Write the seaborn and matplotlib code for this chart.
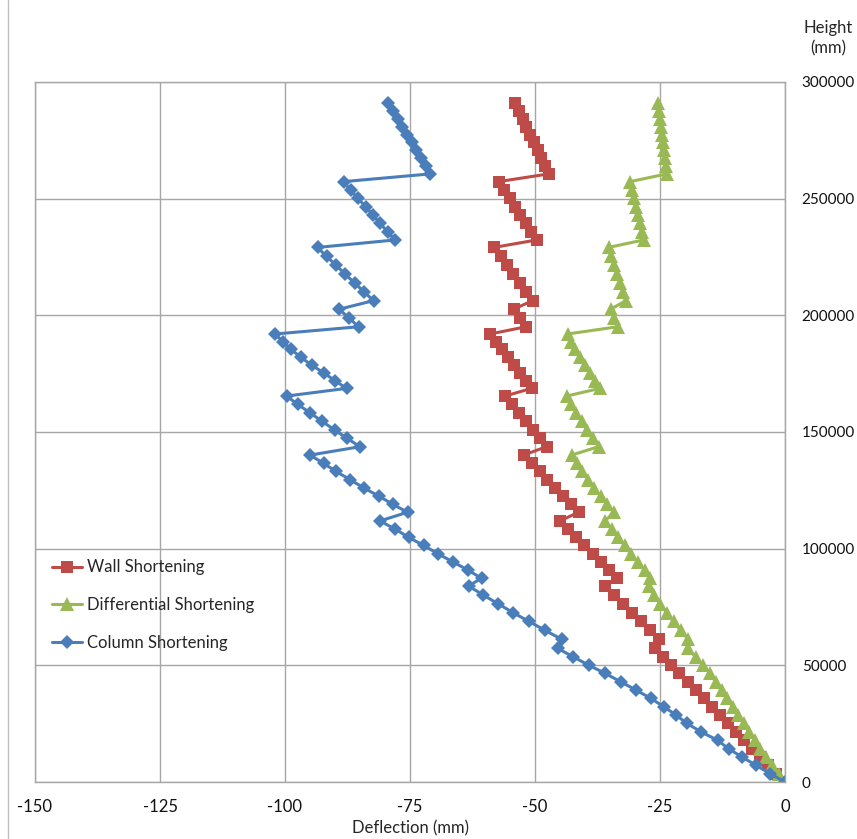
import numpy as np
import pandas as pd
import seaborn as sns
import matplotlib.pyplot as plt
from matplotlib.lines import Line2D

# floor levels (mm), shared by all three series
height = [0, 3600, 7200, 10700, 14300, 17900, 21500, 25100, 28700, 32200, 35800, 39400,
          43000, 46600, 50100, 53700, 57300,
          61200, 65000, 68800, 72600, 76400, 80200, 84000,
          87300, 90800, 94300, 97800, 101400, 104900, 108400, 111900,
          115600, 119100, 122600, 126100, 129600, 133100, 136600, 140100,
          143700, 147300, 150900, 154600, 158200, 161800, 165400,
          168700, 172000, 175400, 178700, 182000, 185400, 188700, 192000,
          195100, 198900, 202600,
          206300, 210100, 213900, 217700, 221500, 225300, 229100,
          232300, 235900, 239400, 243000, 246600, 250100, 253700, 257300,
          260600, 264000, 267400, 270800, 274200, 277500, 280900, 284300, 287700, 291100]

wall = [0, -1.8, -3.4, -5.0, -6.6, -8.2, -9.8, -11.4, -13.0, -14.6, -16.2, -17.8,
        -19.5, -21.2, -22.9, -24.5, -26.0,
        -25.3, -27.1, -28.9, -30.7, -32.4, -34.2, -36.0,
        -33.7, -35.3, -36.9, -38.5, -40.2, -41.8, -43.4, -45.0,
        -41.3, -42.9, -44.4, -46.0, -47.6, -49.1, -50.7, -52.3,
        -47.7, -49.1, -50.5, -51.9, -53.2, -54.6, -56.0,
        -50.7, -51.9, -53.1, -54.3, -55.4, -56.6, -57.8, -59.0,
        -51.8, -53.0, -54.3,
        -50.5, -51.8, -53.1, -54.4, -55.6, -56.9, -58.2,
        -49.7, -50.8, -51.9, -53.0, -54.0, -55.1, -56.2, -57.3,
        -47.3, -48.0, -48.8, -49.5, -50.3, -51.0, -51.8, -52.5, -53.3, -54.0]

differential = [0, -1.3, -2.6, -3.8, -5.0, -6.1, -7.2, -8.3, -9.4, -10.5, -11.6, -12.7,
                -13.9, -15.1, -16.4, -17.9, -19.5,
                -19.4, -20.9, -22.3, -23.7, -25.0, -26.2, -27.3,
                -27.0, -28.1, -29.5, -30.9, -32.1, -33.5, -34.6, -36.0,
                -34.2, -35.6, -36.9, -38.3, -39.4, -40.7, -41.6, -42.7,
                -37.3, -38.5, -39.6, -40.7, -41.8, -42.8, -43.7,
                -37.0, -38.0, -39.0, -40.0, -41.0, -42.0, -42.8, -43.5,
                -33.5, -34.2, -34.9,
                -31.8, -32.4, -33.0, -33.6, -34.2, -34.8, -35.3,
                -28.3, -28.7, -29.1, -29.4, -29.9, -30.3, -30.7, -31.0,
                -23.7, -23.9, -24.1, -24.3, -24.4, -24.7, -24.8, -25.0, -25.2, -25.4]

column = [0, -3.0, -5.8, -8.6, -11.3, -13.5, -16.8, -19.6, -21.8, -24.2, -26.8, -29.8,
          -32.9, -36.0, -39.3, -42.4, -45.5,
          -44.7, -48.0, -51.2, -54.4, -57.4, -60.4, -63.3,
          -60.7, -63.4, -66.4, -69.4, -72.3, -75.3, -78.0, -81.0,
          -75.5, -78.5, -81.3, -84.3, -87.0, -89.8, -92.3, -95.0,
          -85.0, -87.6, -90.1, -92.6, -95.0, -97.4, -99.7,
          -87.7, -90.0, -92.3, -94.7, -96.8, -98.8, -100.4, -102.0,
          -85.3, -87.2, -89.2,
          -82.3, -84.2, -86.1, -88.0, -89.8, -91.7, -93.5,
          -78.0, -79.5, -81.0, -82.4, -83.9, -85.4, -86.9, -88.3,
          -71.0, -71.9, -72.9, -73.8, -74.7, -75.7, -76.6, -77.5, -78.5, -79.4]

x_ticks = [-150, -125, -100, -75, -50, -25, 0]
y_ticks = [0, 50000, 100000, 150000, 200000, 250000, 300000]

df = pd.DataFrame({"height": height, "Wall Shortening": wall,
                   "Differential Shortening": differential,
                   "Column Shortening": column})

sns.set_style("white")
plt.rcParams['font.family'] = ['Lato', 'DejaVu Sans']
plt.rcParams['axes.unicode_minus'] = False

# series style: colour, marker, marker size
styles = {
    "Wall Shortening": ("#BE4B48", "s", 8.8),
    "Differential Shortening": ("#98B954", "^", 10),
    "Column Shortening": ("#4A7EBB", "D", 7.2),
}

fig = plt.figure(figsize=(8.57, 8.39), dpi=100)
ax = fig.add_axes([35 / 857, 57 / 839, 750 / 857, 700 / 839])

for name, (col, mk, ms) in styles.items():
    sns.lineplot(data=df, x=name, y="height", sort=False, estimator=None,
                 color=col, marker=mk, markersize=ms, markeredgewidth=0,
                 linewidth=2.2, ax=ax)

ax.set_xlim(-150, 0)
ax.set_ylim(0, 300000)
ax.set_xticks(x_ticks)
ax.set_yticks(y_ticks)
ax.set_xticklabels([str(v) for v in x_ticks])
ax.set_yticklabels([str(v) for v in y_ticks])
ax.yaxis.tick_right()
ax.tick_params(axis='y', length=0, pad=12, labelsize=11, labelcolor='#111111')
ax.tick_params(axis='x', length=4, width=1, color='#A6A6A6', direction='out',
               pad=8, labelsize=12, labelcolor='#111111')
ax.grid(True, color='#A6A6A6', linewidth=1)
for sp in ax.spines.values():
    sp.set_color('#A6A6A6')
    sp.set_linewidth(1)
ax.set_xlabel("Deflection (mm)", fontsize=12, labelpad=4)
ax.set_ylabel("")

fig.text(828 / 857, 1 - 28 / 839, "Height", ha='center', va='center', fontsize=12)
fig.text(828 / 857, 1 - 48 / 839, "(mm)", ha='center', va='center', fontsize=12)

# left border of the chart frame
fig.add_artist(Line2D([8 / 857, 8 / 857], [0, 1], color='#BFBFBF', linewidth=1,
                      transform=fig.transFigure))

handles = [Line2D([], [], color=c, marker=m, markersize=s, markeredgewidth=0, linewidth=2.2)
           for c, m, s in styles.values()]
ax.legend(handles, list(styles.keys()), loc='upper left', bbox_to_anchor=(0.022, 0.318),
          frameon=False, fontsize=12, handlelength=1.85, handletextpad=0.3,
          labelspacing=1.3, borderpad=0, borderaxespad=0)

fig.savefig("out.png", dpi=100)
